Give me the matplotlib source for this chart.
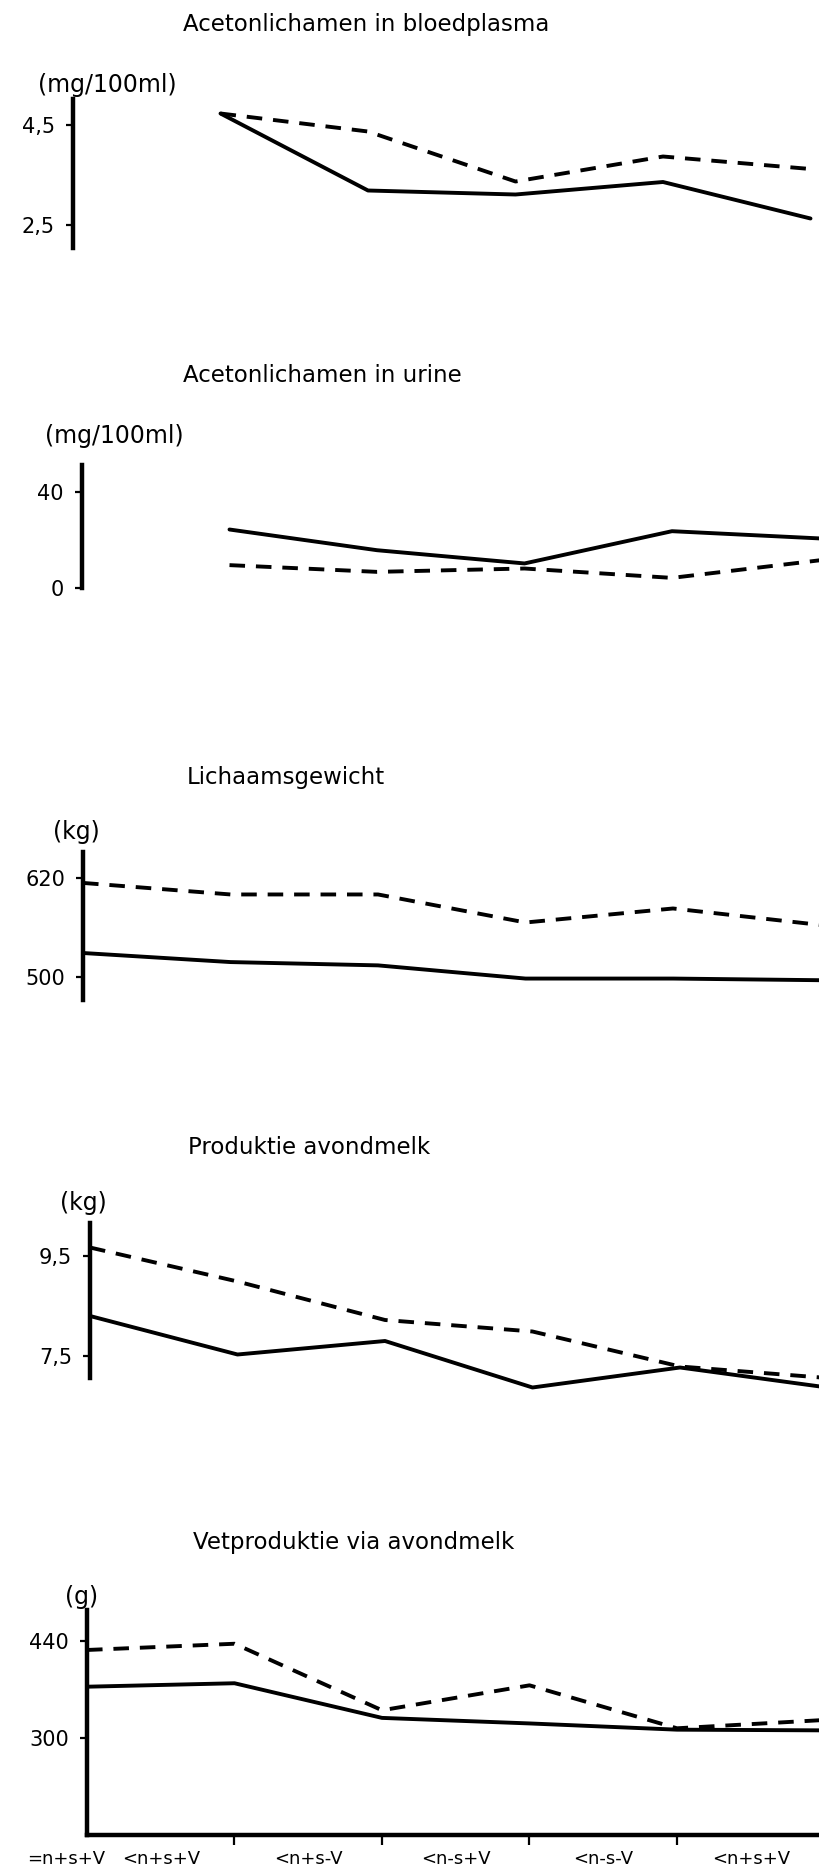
import numpy as np
import matplotlib.pyplot as plt

# x categories (feeding regime per period)
categories = ['=n+s+V', '<n+s+V', '<n+s-V', '<n-s+V', '<n-s-V', '<n+s+V']

# Acetonlichamen in bloedplasma (mg/100ml)
bloed_solid = [np.nan, 4.73, 3.19, 3.11, 3.36, 2.63]
bloed_dashed = [np.nan, 4.73, 4.37, 3.37, 3.87, 3.62]

# Acetonlichamen in urine (mg/100ml)
urine_solid = [np.nan, 24.3, 15.7, 10.2, 23.6, 20.6]
urine_dashed = [np.nan, 9.5, 6.7, 8.1, 4.2, 11.5]

# Lichaamsgewicht (kg)
gewicht_solid = [529, 518, 514, 498, 498, 496]
gewicht_dashed = [614, 600, 600, 566, 583, 563]

# Produktie avondmelk (kg)
melk_solid = [8.3, 7.53, 7.8, 6.87, 7.27, 6.87]
melk_dashed = [9.67, 8.99, 8.22, 7.99, 7.29, 7.06]

# Vetproduktie via avondmelk (g)
vet_solid = [374, 379, 329, 321, 312, 311]
vet_dashed = [427, 436, 340, 376, 314, 326]

W, H = 820, 1869
STEP = 147.5  # pixels per category

fig = plt.figure(figsize=(W / 100, H / 100), dpi=100)
x = np.arange(len(categories))


def panel(left, top, bottom, ylim, ticks, ticklabels, solid, dashed,
          title, title_xy, unit, unit_xy):
    ax = fig.add_axes([left / W, 1 - bottom / H, 1 - left / W, (bottom - top) / H])
    ax.plot(x, solid, color='black', lw=2.8, solid_joinstyle='round',
            solid_capstyle='round', clip_on=False)
    ax.plot(x, dashed, color='black', lw=2.8, ls=(0, (4.0, 2.8)),
            dash_joinstyle='round', clip_on=False)
    ax.set_xlim(0, (W - left) / STEP)
    ax.set_ylim(*ylim)
    for s in ['top', 'right', 'bottom']:
        ax.spines[s].set_visible(False)
    ax.spines['left'].set_linewidth(3.2)
    ax.set_yticks(ticks, ticklabels)
    ax.tick_params(axis='y', direction='out', length=5, width=1.6, pad=8,
                   labelsize=15)
    ax.set_xticks([])
    ax.patch.set_alpha(0)
    fig.text(title_xy[0] / W, 1 - title_xy[1] / H, title, fontsize=16.5,
             ha='left', va='center')
    fig.text(unit_xy[0] / W, 1 - unit_xy[1] / H, unit, fontsize=17,
             ha='left', va='center')
    return ax


panel(73, 99, 248, (2.04, 5.02), [4.5, 2.5], ['4,5', '2,5'],
      bloed_solid, bloed_dashed, 'Acetonlichamen in bloedplasma', (183, 24),
      '(mg/100ml)', (38, 85))

panel(82, 465, 588, (0, 51.1), [40, 0], ['40', '0'],
      urine_solid, urine_dashed, 'Acetonlichamen in urine', (183, 375),
      '(mg/100ml)', (45, 436))

panel(83, 852, 1000, (472, 651.5), [620, 500], ['620', '500'],
      gewicht_solid, gewicht_dashed, 'Lichaamsgewicht', (187, 777),
      '(kg)', (53, 832))

panel(90, 1223, 1378, (7.06, 10.16), [9.5, 7.5], ['9,5', '7,5'],
      melk_solid, melk_dashed, 'Produktie avondmelk', (188, 1147),
      '(kg)', (60, 1203))

ax = panel(87, 1610, 1835, (160, 484.7), [440, 300], ['440', '300'],
           vet_solid, vet_dashed, 'Vetproduktie via avondmelk', (193, 1542),
           '(g)', (65, 1597))

# bottom axis with category labels between the ticks
ax.spines['bottom'].set_visible(True)
ax.spines['bottom'].set_linewidth(3.2)
ax.set_xticks(x[1:5])
ax.tick_params(axis='x', direction='out', length=7, width=1.6, labelbottom=False)
label_pos = x - 0.5
label_pos[0] = -0.14
for pos, lab in zip(label_pos, categories):
    ax.annotate(lab, xy=(pos, 0), xycoords=('data', 'axes fraction'),
                xytext=(0, -17), textcoords='offset points',
                ha='center', va='center', fontsize=13, annotation_clip=False)

fig.savefig('out.png', dpi=100, facecolor='white')
